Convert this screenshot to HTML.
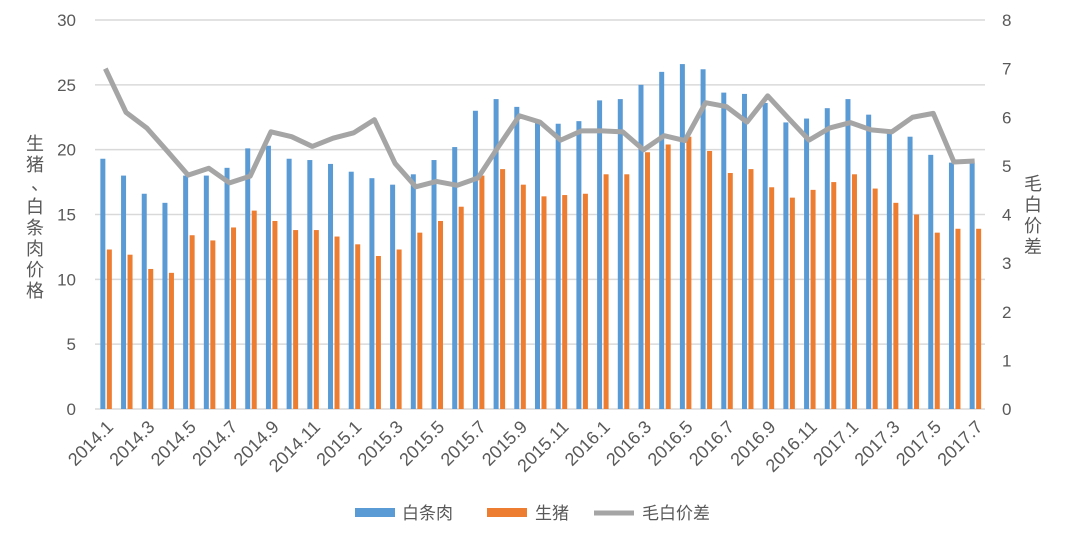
<!DOCTYPE html>
<html><head><meta charset="utf-8"><style>
body{margin:0;background:#fff;}
svg{display:block;font-family:"Liberation Sans","Noto Sans CJK SC",sans-serif;}
</style></head><body>
<svg id="chart" width="1073" height="539" viewBox="0 0 1073 539">
<g id="grid"></g><g id="bars"></g><g id="line"></g><g id="axes"></g>
<g fill="#595959" font-size="18">
<text x="35" y="150" text-anchor="middle">生</text>
<text x="35" y="171" text-anchor="middle">猪</text>
<text x="40" y="190" text-anchor="middle">、</text>
<text x="35" y="213" text-anchor="middle">白</text>
<text x="35" y="234" text-anchor="middle">条</text>
<text x="35" y="255" text-anchor="middle">肉</text>
<text x="35" y="276" text-anchor="middle">价</text>
<text x="35" y="297" text-anchor="middle">格</text>
</g>
<g fill="#595959" font-size="18">
<text x="1033" y="190" text-anchor="middle">毛</text>
<text x="1033" y="211" text-anchor="middle">白</text>
<text x="1033" y="232" text-anchor="middle">价</text>
<text x="1033" y="253" text-anchor="middle">差</text>
</g>
<g font-size="17" fill="#595959">
<g><rect x="355" y="508" width="40" height="9" fill="#5b9bd5"/><text x="402" y="519">白条肉</text></g>
<g><rect x="487" y="508" width="40" height="9" fill="#ed7d31"/><text x="535" y="519">生猪</text></g>
<g><line x1="594" y1="513" x2="634" y2="513" stroke="#a5a5a5" stroke-width="5"/><text x="642" y="519">毛白价差</text></g>
</g>
</svg>
<script>
const categories=["2014.1","2014.2","2014.3","2014.4","2014.5","2014.6","2014.7","2014.8","2014.9","2014.10","2014.11","2014.12","2015.1","2015.2","2015.3","2015.4","2015.5","2015.6","2015.7","2015.8","2015.9","2015.10","2015.11","2015.12","2016.1","2016.2","2016.3","2016.4","2016.5","2016.6","2016.7","2016.8","2016.9","2016.10","2016.11","2016.12","2017.1","2017.2","2017.3","2017.4","2017.5","2017.6","2017.7"];
const baitiaorou=[19.3,18.0,16.6,15.9,18.0,18.0,18.6,20.1,20.3,19.3,19.2,18.9,18.3,17.8,17.3,18.1,19.2,20.2,23.0,23.9,23.3,22.1,22.0,22.2,23.8,23.9,25.0,26.0,26.6,26.2,24.4,24.3,23.6,22.1,22.4,23.2,23.9,22.7,21.3,21.0,19.6,19.0,19.0];
const shengzhu=[12.3,11.9,10.8,10.5,13.4,13.0,14.0,15.3,14.5,13.8,13.8,13.3,12.7,11.8,12.3,13.6,14.5,15.6,18.0,18.5,17.3,16.4,16.5,16.6,18.1,18.1,19.8,20.4,21.0,19.9,18.2,18.5,17.1,16.3,16.9,17.5,18.1,17.0,15.9,15.0,13.6,13.9,13.9];
const jiacha=[7.0,6.1,5.78,5.3,4.81,4.95,4.65,4.79,5.7,5.6,5.4,5.57,5.68,5.95,5.05,4.57,4.68,4.6,4.75,5.4,6.03,5.9,5.53,5.72,5.72,5.7,5.33,5.62,5.52,6.3,6.22,5.9,6.44,5.98,5.53,5.78,5.89,5.74,5.7,6.0,6.08,5.08,5.1];
const leftTicks=[0,5,10,15,20,25,30];
const rightTicks=[0,1,2,3,4,5,6,7,8];
const NS="http://www.w3.org/2000/svg";
const X0=95,X1=985,Y0=409,YT=20;
const band=(X1-X0)/categories.length;
function xc(i){return X0+band*(i+0.5);}
function yL(v){return Y0-(Y0-YT)*v/30;}
function yR(v){return Y0-(Y0-YT)*v/8;}
function mk(tag,attrs,parent){const e=document.createElementNS(NS,tag);for(const k in attrs)e.setAttribute(k,attrs[k]);parent.appendChild(e);return e;}
const grid=document.getElementById('grid'),bars=document.getElementById('bars'),line=document.getElementById('line'),axes=document.getElementById('axes');
leftTicks.forEach(v=>{
  const g=mk('line',{x1:X0,x2:X1,y1:yL(v),y2:yL(v),stroke:'#d9d9d9','stroke-width':1.5},grid);
  
  
  const t=mk('text',{x:76,y:yL(v)+6,'text-anchor':'end','font-size':17,fill:'#595959'},axes);
  t.textContent=v;
  
  
});
rightTicks.forEach(v=>{
  const t=mk('text',{x:1002,y:yR(v)+6,'font-size':17,fill:'#595959'},axes);
  t.textContent=v;
  
  
});
categories.forEach((c,i)=>{
  const cx=xc(i);
  const b=mk('rect',{x:cx-5,y:yL(baitiaorou[i]),width:5,height:Y0-yL(baitiaorou[i]),fill:'#5b9bd5'},bars);
  
  
  const o=mk('rect',{x:cx+1.5,y:yL(shengzhu[i]),width:5,height:Y0-yL(shengzhu[i]),fill:'#ed7d31'},bars);
  
  
  if(i%2===0){
    const t=mk('text',{x:0,y:0,'text-anchor':'end','font-size':18,fill:'#595959',transform:`translate(${cx+9},${Y0+19}) rotate(-45)`},axes);
    t.textContent=c;
    
    
  }
});
const p=mk('polyline',{points:jiacha.map((v,i)=>xc(i)+','+yR(v)).join(' '),fill:'none',stroke:'#a5a5a5','stroke-width':5,'stroke-linejoin':'round'},line);


</script>
</body></html>
